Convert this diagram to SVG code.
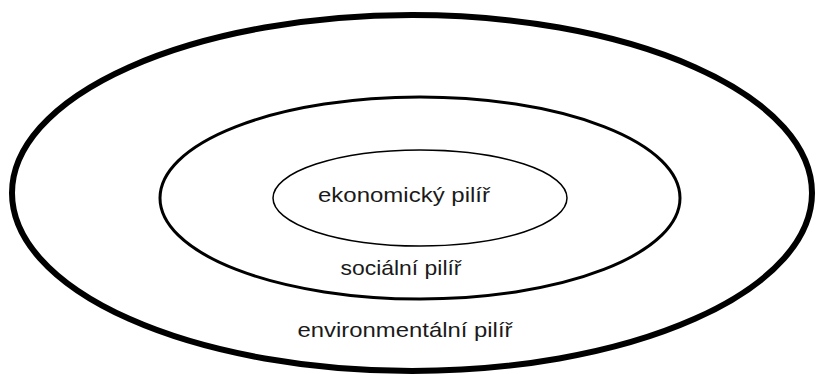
<svg xmlns="http://www.w3.org/2000/svg" width="816" height="374" viewBox="0 0 816 374">
<style>
.ring{fill:none;stroke:#000}
.lbl{font-family:"Liberation Sans",Arial,sans-serif;font-size:21px;fill:#1a1a1a;text-anchor:middle}
</style>
<rect width="816" height="374" fill="#fff"/>
<g id="environmental">
<ellipse class="ring" cx="412" cy="193" rx="400" ry="178" stroke-width="6"/>
<text class="lbl" x="405" y="337" textLength="215" lengthAdjust="spacingAndGlyphs">environmentální pilíř</text>
</g>
<g id="social">
<ellipse class="ring" cx="420" cy="198" rx="260" ry="101" stroke-width="3"/>
<text class="lbl" x="401" y="275" textLength="121" lengthAdjust="spacingAndGlyphs">sociální pilíř</text>
</g>
<g id="economic">
<ellipse class="ring" cx="420" cy="198" rx="147" ry="48" stroke-width="1.5"/>
<text class="lbl" x="404" y="202" textLength="172" lengthAdjust="spacingAndGlyphs">ekonomický pilíř</text>
</g>
<g id="connectors"/>
</svg>
